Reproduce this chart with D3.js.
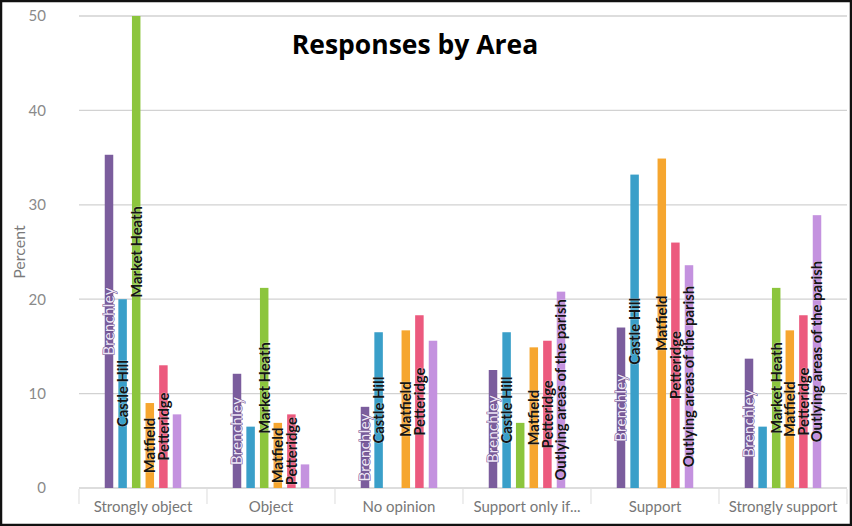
<!DOCTYPE html>
<html>
<head>
<meta charset="utf-8">
<script src="https://cdn.jsdelivr.net/npm/d3@7"></script>
<style>
  html, body { margin: 0; padding: 0; background: #fff; }
  svg { display: block; }
</style>
</head>
<body>
<div id="chart"></div>
<script>
// Answer categories along the x axis.
const categories = ['Strongly object', 'Object', 'No opinion', 'Support only if...', 'Support', 'Strongly support'];

// Areas (one bar per area in every category).
const areas = ['Brenchley', 'Castle Hill', 'Market Heath', 'Matfield', 'Petteridge', 'Outlying areas of the parish'];

// Percent per area, one row per category (same order as areas).
const percents = [
  [35.3, 20.0, 50.0, 9.0, 13.0, 7.8],
  [12.1, 6.5, 21.2, 6.9, 7.8, 2.5],
  [8.6, 16.5, 0, 16.7, 18.3, 15.6],
  [12.5, 16.5, 6.9, 14.9, 15.6, 20.8],
  [17.0, 33.2, 0, 34.9, 26.0, 23.6],
  [13.7, 6.5, 21.2, 16.7, 18.3, 28.9],
];

// Which data labels the original kept after overlap removal.
const labelShown = [
  [1, 1, 1, 1, 1, 0],
  [1, 0, 1, 1, 1, 0],
  [1, 1, 0, 1, 1, 0],
  [1, 1, 0, 1, 1, 1],
  [1, 1, 0, 1, 1, 1],
  [1, 0, 1, 1, 1, 1],
];

const yTicks = [0, 10, 20, 30, 40, 50];

const areaColours = ['#7b5d9d', '#3a9fc9', '#8cc53d', '#f6a62f', '#ec5a7e', '#c492df'];

const width = 852;
const height = 526;
const plot = { left: 79, right: 847, top: 16, bottom: 488 };

const svg = d3.select('#chart')
  .append('svg')
  .attr('width', width)
  .attr('height', height);

const x0 = d3.scaleBand()
  .domain(categories)
  .range([plot.left, plot.right]);

// Inner band: bars sit in the middle ~64% of each category slot.
const step = 12.8;
const inner = step * (areas.length + 0.375);
const x1 = d3.scaleBand()
  .domain(areas)
  .range([(x0.bandwidth() - inner) / 2, (x0.bandwidth() + inner) / 2])
  .paddingInner(0.375)
  .paddingOuter(0.1875);

const y = d3.scaleLinear()
  .domain([0, 50])
  .range([plot.bottom, plot.top]);

const colour = d3.scaleOrdinal().domain(areas).range(areaColours);

// Gridlines
svg.append('g')
  .selectAll('line')
  .data(yTicks)
  .join('line')
  .attr('x1', plot.left)
  .attr('x2', plot.right)
  .attr('y1', d => y(d))
  .attr('y2', d => y(d))
  .style('stroke', '#d2d2d2')
  .style('stroke-width', 1.3);

// Y axis tick labels
const yAxis = svg.append('g')
  .attr('transform', `translate(${plot.left - 33},0)`)
  .call(d3.axisLeft(y).tickValues(yTicks).tickSize(0).tickPadding(0));
yAxis.select('.domain').remove();
yAxis.selectAll('text')
  .style('font-family', 'Lato, sans-serif')
  .style('font-size', '15px')
  .style('fill', '#8a8a8a');

// Category axis with ticks between the groups
const xAxis = svg.append('g')
  .attr('transform', `translate(0,${plot.bottom})`)
  .call(d3.axisBottom(x0).tickSize(0).tickPadding(13));
xAxis.select('.domain').remove();
xAxis.selectAll('text')
  .style('font-family', 'Lato, sans-serif')
  .style('font-size', '15px')
  .style('fill', '#777');

svg.append('g')
  .selectAll('line')
  .data(categories.concat([null]))
  .join('line')
  .attr('x1', (d, i) => plot.left + i * x0.step())
  .attr('x2', (d, i) => plot.left + i * x0.step())
  .attr('y1', plot.bottom + 1)
  .attr('y2', plot.bottom + 16)
  .style('stroke', '#e2e2e2')
  .style('stroke-width', 1.2);

// Y axis title
svg.append('text')
  .attr('transform', `translate(25,252) rotate(-90)`)
  .attr('text-anchor', 'middle')
  .style('font-family', 'Lato, sans-serif')
  .style('font-size', '16px')
  .style('fill', '#7a7a7a')
  .text('Percent');

// Bars
const groups = svg.append('g')
  .selectAll('g')
  .data(percents)
  .join('g')
  .attr('transform', (d, i) => `translate(${x0(categories[i])},0)`);

groups.selectAll('rect')
  .data(row => row.map((value, j) => ({ area: areas[j], value })))
  .join('rect')
  .attr('x', d => x1(d.area))
  .attr('width', x1.bandwidth())
  .attr('y', d => y(d.value))
  .attr('height', d => y(0) - y(d.value))
  .style('fill', d => colour(d.area));

// Rotated data labels, centred on each bar
groups.selectAll('text')
  .data((row, i) => row
    .map((value, j) => ({ area: areas[j], value, show: labelShown[i][j] }))
    .filter(d => d.show && d.value > 0))
  .join('text')
  .attr('transform', d => `translate(${x1(d.area) + x1.bandwidth() / 2},${(y(d.value) + y(0)) / 2}) rotate(-90)`)
  .attr('text-anchor', 'middle')
  .attr('dy', '0.36em')
  .style('font-family', 'Lato, sans-serif')
  .style('font-weight', d => (d.area === 'Brenchley' ? 'normal' : 'bold'))
  .style('font-size', '14.8px')
  .style('letter-spacing', d => (d.area === 'Brenchley' ? '0.4px' : '0px'))
  .style('paint-order', 'stroke')
  .style('stroke', d => (d.area === 'Brenchley' ? '#6a4d8c' : 'rgba(255,255,255,0.35)'))
  .style('stroke-width', 1)
  .style('fill', d => (d.area === 'Brenchley' ? '#eee6f6' : '#141414'))
  .text(d => d.area);

// Title
svg.append('text')
  .attr('x', 415)
  .attr('y', 54)
  .attr('text-anchor', 'middle')
  .style('font-family', '"Open Sans", sans-serif')
  .style('font-weight', 'bold')
  .style('font-size', '26.5px')
  .style('fill', '#000')
  .text('Responses by Area');

// Frame round the picture
svg.append('rect')
  .attr('x', 1)
  .attr('y', 1)
  .attr('width', width - 2)
  .attr('height', height - 2)
  .style('fill', 'none')
  .style('stroke', '#111')
  .style('stroke-width', 2.5);
</script>
</body>
</html>
